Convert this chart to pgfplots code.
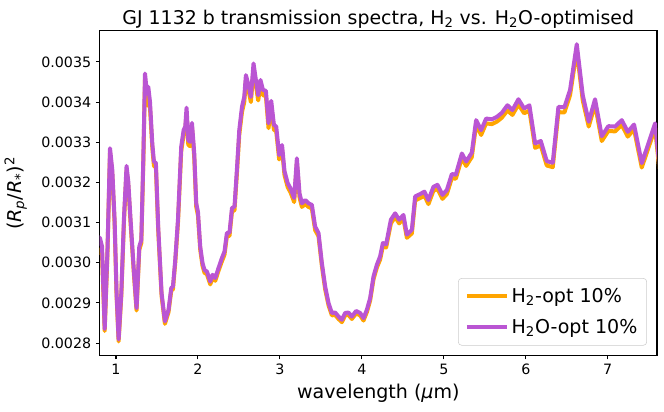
\documentclass[border=0pt]{standalone}
\usepackage{fontspec}
\setmainfont{DejaVu Sans}
\usepackage{pgfplots}
\usepackage{pgfplotstable}
\pgfplotsset{compat=1.18}
\definecolor{cH}{HTML}{FFA500}
\definecolor{cW}{HTML}{BA55D3}

% wavelength (micron), H2O-opt, H2-opt
\pgfplotstableread{
wl    h2o       h2
0.780 0.003065 0.003035
0.805 0.003061 0.003028
0.830 0.003040 0.003020
0.862 0.002835 0.002830
0.895 0.003024 0.003016
0.927 0.003285 0.003274
0.955 0.003231 0.003220
0.983 0.003107 0.003098
1.007 0.002925 0.002918
1.032 0.002809 0.002804
1.065 0.002925 0.002918
1.098 0.003115 0.003106
1.129 0.003241 0.003230
1.150 0.003202 0.003192
1.178 0.003107 0.003098
1.220 0.002974 0.002967
1.251 0.002887 0.002881
1.284 0.003040 0.003032
1.309 0.003057 0.003049
1.333 0.003256 0.003245
1.354 0.003471 0.003457
1.378 0.003421 0.003392
1.394 0.003438 0.003395
1.415 0.003400 0.003385
1.443 0.003297 0.003286
1.463 0.003252 0.003241
1.487 0.003248 0.003237
1.515 0.003090 0.003081
1.556 0.002925 0.002918
1.597 0.002854 0.002848
1.641 0.002883 0.002877
1.674 0.002937 0.002930
1.695 0.002941 0.002934
1.723 0.003007 0.003000
1.756 0.003107 0.003098
1.796 0.003289 0.003278
1.825 0.003330 0.003318
1.845 0.003339 0.003327
1.861 0.003386 0.003373
1.882 0.003305 0.003294
1.902 0.003301 0.003290
1.927 0.003348 0.003336
1.955 0.003272 0.003261
1.979 0.003148 0.003139
2.000 0.003127 0.003118
2.028 0.003040 0.003032
2.056 0.002999 0.002992
2.080 0.002982 0.002975
2.110 0.002978 0.002971
2.150 0.002953 0.002946
2.178 0.002970 0.002963
2.211 0.002962 0.002955
2.251 0.002987 0.002980
2.293 0.003012 0.003004
2.324 0.003028 0.003020
2.353 0.003074 0.003066
2.385 0.003075 0.003067
2.415 0.003136 0.003127
2.446 0.003140 0.003131
2.475 0.003231 0.003220
2.504 0.003330 0.003318
2.537 0.003388 0.003375
2.565 0.003413 0.003400
2.585 0.003467 0.003453
2.617 0.003442 0.003429
2.646 0.003413 0.003400
2.678 0.003496 0.003482
2.707 0.003455 0.003442
2.735 0.003417 0.003404
2.763 0.003455 0.003442
2.793 0.003430 0.003417
2.829 0.003428 0.003415
2.861 0.003347 0.003335
2.894 0.003403 0.003390
2.927 0.003343 0.003331
2.955 0.003339 0.003327
2.991 0.003268 0.003257
3.026 0.003293 0.003282
3.056 0.003228 0.003218
3.095 0.003198 0.003188
3.130 0.003185 0.003175
3.174 0.003161 0.003151
3.207 0.003260 0.003249
3.239 0.003173 0.003163
3.268 0.003148 0.003139
3.309 0.003156 0.003146
3.349 0.003148 0.003139
3.390 0.003144 0.003135
3.430 0.003090 0.003081
3.471 0.003074 0.003066
3.512 0.002999 0.002992
3.552 0.002941 0.002934
3.593 0.002900 0.002894
3.634 0.002875 0.002869
3.674 0.002876 0.002870
3.715 0.002866 0.002860
3.756 0.002858 0.002852
3.796 0.002875 0.002869
3.837 0.002876 0.002870
3.878 0.002866 0.002860
3.930 0.002880 0.002874
3.979 0.002875 0.002869
4.020 0.002862 0.002856
4.061 0.002883 0.002877
4.101 0.002912 0.002906
4.142 0.002966 0.002959
4.183 0.002995 0.002988
4.223 0.003016 0.003008
4.256 0.003049 0.003041
4.296 0.003046 0.003038
4.354 0.003107 0.003098
4.406 0.003123 0.003114
4.455 0.003107 0.003098
4.507 0.003119 0.003110
4.549 0.003070 0.003062
4.610 0.003082 0.003073
4.650 0.003165 0.003155
4.711 0.003171 0.003161
4.763 0.003177 0.003167
4.812 0.003156 0.003146
4.873 0.003189 0.003179
4.922 0.003194 0.003184
4.983 0.003169 0.003159
5.037 0.003181 0.003171
5.098 0.003221 0.003211
5.146 0.003219 0.003209
5.220 0.003272 0.003261
5.272 0.003252 0.003241
5.341 0.003274 0.003263
5.394 0.003355 0.003343
5.455 0.003330 0.003318
5.516 0.003359 0.003347
5.585 0.003357 0.003345
5.646 0.003363 0.003351
5.707 0.003373 0.003361
5.776 0.003392 0.003379
5.837 0.003380 0.003368
5.910 0.003407 0.003394
5.980 0.003384 0.003372
6.044 0.003392 0.003379
6.114 0.003297 0.003286
6.183 0.003303 0.003292
6.256 0.003253 0.003242
6.329 0.003249 0.003238
6.398 0.003388 0.003375
6.471 0.003387 0.003374
6.540 0.003430 0.003417
6.622 0.003544 0.003529
6.695 0.003417 0.003404
6.768 0.003351 0.003339
6.845 0.003407 0.003394
6.927 0.003315 0.003303
7.007 0.003340 0.003328
7.089 0.003339 0.003327
7.171 0.003355 0.003343
7.244 0.003326 0.003314
7.321 0.003344 0.003332
7.415 0.003248 0.003237
7.496 0.003297 0.003286
7.578 0.003347 0.003335
7.650 0.003200 0.003190
}\spec

\begin{document}
\begin{tikzpicture}
\begin{axis}[
  scale only axis, width=418.5pt, height=243.75pt,
  xmin=0.8, xmax=7.601, ymin=0.0027688, ymax=0.003577,
  axis line style={line width=0.8pt},
  every tick/.style={black, line width=0.8pt},
  major tick length=2.8pt, tick align=outside, tick pos=left,
  xtick={1,2,3,4,5,6,7},
  xticklabels={1,2,3,4,5,6,7},
  ytick={0.0028,0.0029,0.0030,0.0031,0.0032,0.0033,0.0034,0.0035},
  yticklabels={0.0028,0.0029,0.0030,0.0031,0.0032,0.0033,0.0034,0.0035},
  scaled y ticks=false,
  tick label style={font=\fontsize{10.7}{12}\selectfont},
  title={GJ 1132 b transmission spectra, H\textsubscript{2} vs. H\textsubscript{2}O-optimised},
  title style={font=\fontsize{14.2}{17}\selectfont, anchor=base, yshift=-1pt},
  xlabel={wavelength (\textit{μ}m)},
  ylabel={(\textit{R}\textsubscript{\textit{p}}/\textit{R}\textsubscript{*})\textsuperscript{2}},
  xlabel style={font=\fontsize{14.3}{17}\selectfont},
  every axis y label/.style={at={(rel axis cs:0,0.5)}, xshift=-63pt, rotate=90, anchor=center,
    font=\fontsize{14.3}{17}\selectfont},
  legend cell align=left,
  legend image code/.code={\draw[#1] (0pt,0pt) -- (30pt,0pt);},
  legend style={at={(0.982,0.031)}, anchor=south east, draw=black!20,
    rounded corners=2.5pt, fill=white, fill opacity=0.8, text opacity=1,
    font=\fontsize{14.3}{17}\selectfont, inner xsep=5pt, inner ysep=5.5pt,
    row sep=7pt, /tikz/every even column/.append style={column sep=12pt}},
]
\addplot[cH, line width=3pt, line join=round] table[x=wl, y=h2] {\spec};
\addlegendentry{H\textsubscript{2}-opt 10\%}
\addplot[cW, line width=3pt, line join=round] table[x=wl, y=h2o] {\spec};
\addlegendentry{H\textsubscript{2}O-opt 10\%}
\end{axis}
\path (current axis.south west) ++(-74.25pt,-42pt) rectangle ++(1pt,1pt);
\path (current axis.north east) ++(5.25pt,23.25pt) rectangle ++(-1pt,-1pt);
\end{tikzpicture}
\end{document}
